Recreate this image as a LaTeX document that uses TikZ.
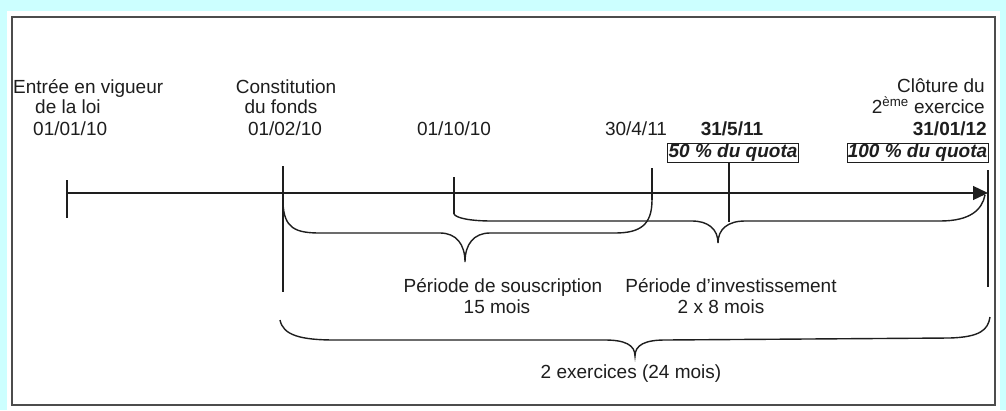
\documentclass[tikz,border=0pt]{standalone}
\usepackage{fontspec}
\setmainfont{Liberation Sans}
\usetikzlibrary{arrows.meta}
\definecolor{cyanbg}{RGB}{204,255,255}
\definecolor{ink}{RGB}{30,30,30}
\begin{document}
\begin{tikzpicture}[x=1pt,y=-1pt,
  font=\fontsize{19}{21}\selectfont,
  axisline/.style={line width=1.3pt, draw=ink},
  tickline/.style={line width=1.3pt, draw=ink},
  bracepath/.style={line width=1.4pt, draw=ink},
  lbl/.style={inner sep=0pt, text=ink},
  quota/.style={draw=ink, line width=1pt, inner xsep=0.8pt, inner ysep=0.6pt,
    text height=13.8pt, text depth=4pt, text=ink,
    font=\fontsize{19}{21}\selectfont\bfseries\itshape}]
\useasboundingbox (0,0) rectangle (1006,410);
% background and frame
\fill[cyanbg] (0,0) rectangle (1006,410);
\fill[white] (7,11) rectangle (1000,410);
\draw[line width=1.5pt, draw=black!70] (12,17) rectangle (995,405);

% coordinates
\coordinate (a0) at (67,193);
\coordinate (aEnd) at (988,193);
\coordinate (t1a) at (67,180);   \coordinate (t1b) at (67,218);
\coordinate (t2a) at (283,166);  \coordinate (t2b) at (283,292);
\coordinate (t3a) at (454,177);  \coordinate (t3b) at (454,214);
\coordinate (t4a) at (652,168);  \coordinate (t4b) at (652,200);
\coordinate (t5b) at (729,222);
\coordinate (t6a) at (988,170);  \coordinate (t6b) at (988,287);

% labels top
\node[lbl, anchor=base west] (e1) at (13,93) {Entrée en vigueur};
\node[lbl, anchor=base west] (e2) at (35,113) {de la loi};
\node[lbl, anchor=base west] (e3) at (33,135) {01/01/10};
\node[lbl, anchor=base] (c1) at (286,93) {Constitution};
\node[lbl, anchor=base] (c2) at (281,113) {du fonds};
\node[lbl, anchor=base] (c3) at (285,135) {01/02/10};
\node[lbl, anchor=base] (d1) at (454,135) {01/10/10};
\node[lbl, anchor=base] (d2) at (636,135) {30/4/11};
\node[lbl, anchor=base, font=\fontsize{19}{21}\selectfont\bfseries] (d3) at (732,135) {31/5/11};
\node[quota, anchor=north] (q50) at (733,143) {50 \% du quota};
\node[lbl, anchor=base east] (k1) at (985,92) {Clôture du};
\node[lbl, anchor=base east] (k2) at (985,113) {2\textsuperscript{ème} exercice};
\node[lbl, anchor=base east, font=\fontsize{19}{21}\selectfont\bfseries] (k3) at (987,135) {31/01/12};
\node[quota, anchor=north east] (q100) at (988.5,143) {100 \% du quota};

% axis and ticks
\draw[axisline, -{Triangle[length=15pt,width=14pt]}] (a0) -- (aEnd);
\draw[tickline] (t1a) -- (t1b);
\draw[tickline] (t2a) -- (t2b);
\draw[tickline] (t3a) -- (t3b);
\draw[tickline] (t4a) -- (t4b);
\draw[tickline] (q50.south -| t5b) -- (t5b);
\draw[tickline] (t6a) -- (t6b);

% brace: souscription
\draw[bracepath] (283,203) .. controls (284,228) and (295,233) .. (320,233)
  -- (440,233) .. controls (456,233) and (465,244) .. (465,262)
  .. controls (465,244) and (474,233) .. (490,233)
  -- (615,233) .. controls (640,233) and (652,225) .. (t4b);
% brace: investissement
\draw[bracepath] (t3b) .. controls (456,218) and (470,221) .. (492,221)
  -- (692,221) .. controls (708,221) and (718,229) .. (718,243)
  .. controls (718,229) and (728,221) .. (745,221)
  -- (940,221) .. controls (970,221) and (982,210) .. (985,195);
% brace: 2 exercices
\draw[bracepath] (280,320) .. controls (283,335) and (300,340) .. (335,340)
  -- (605,340) .. controls (625,340) and (635,345) .. (635,356)
  .. controls (635,345) and (645,340) .. (665,340)
  -- (950,338) .. controls (980,337) and (988,330) .. (990,317);

% labels bottom
\node[lbl, anchor=base] (p1) at (503,292) {Période de souscription};
\node[lbl, anchor=base] (p2) at (497,313) {15 mois};
\node[lbl, anchor=base] (p3) at (731,292) {Période d’investissement};
\node[lbl, anchor=base] (p4) at (721,313) {2 x 8 mois};
\node[lbl, anchor=base] (p5) at (631,378) {2 exercices (24 mois)};
\end{tikzpicture}
\end{document}
